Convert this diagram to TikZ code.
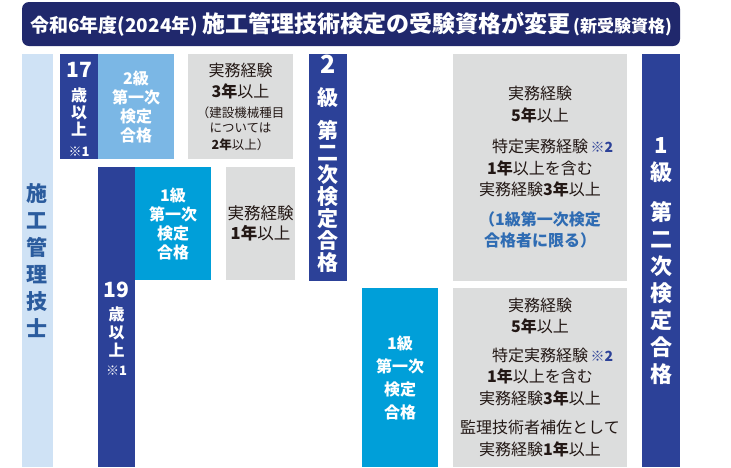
\documentclass[tikz,border=0pt]{standalone}
\usepackage{fontspec}
\setmainfont{Noto Sans CJK JP}
\usetikzlibrary{backgrounds}
\definecolor{navy}{HTML}{20286C}
\definecolor{dkblue}{HTML}{2C4198}
\definecolor{ltblue}{HTML}{7BB7E5}
\definecolor{cyanb}{HTML}{009FD9}
\definecolor{grayb}{HTML}{DCDDDD}
\definecolor{paleblue}{HTML}{CFE2F5}
\definecolor{txtblue}{HTML}{2B5C9E}
\definecolor{noteblue}{HTML}{2F6CB3}
\definecolor{ink}{HTML}{231815}
\newcommand\fs[2]{\fontsize{#1}{#2}\selectfont}
\begin{document}
\begin{tikzpicture}[x=1pt,y=-1pt,
  box/.style={inner sep=0pt, outer sep=0pt, align=center},
  dkcol/.style={box, fill=dkblue, text=white, font=\bfseries},
  ltbox/.style={box, fill=ltblue, text=white, font=\bfseries\fs{16}{19}},
  cybox/.style={box, fill=cyanb, text=white, font=\bfseries\fs{16}{19}},
  gybox/.style={box, fill=grayb, text=ink, font=\fs{16}{21.5}},
  wtxt/.style={box, text=white},
  conn/.style={draw=dkblue, line width=7pt},
]
\useasboundingbox[fill=white] (0,0) rectangle (731,467);

% title
\node[box, fill=navy, rounded corners=7pt, minimum width=658, minimum height=44, text=white, font=\bfseries] (title) at (351,24)
  {{\fs{19}{19}令和6年度(2024年)}\hspace{4pt}{\fs{23}{23}施工管理技術検定の受験資格が変更}\hspace{3pt}{\fs{17}{17}(新受験資格)}};

% left column
\node[box, fill=paleblue, minimum width=31, minimum height=413, text=txtblue, font=\bfseries\fs{21}{27}] (shiko) at (37.5,260.5)
  {施\\工\\管\\理\\技\\士};

% 17 column
\node[dkcol, minimum width=38, minimum height=105] (c17) at (79,106.5) {};
\node[wtxt, font=\bfseries\fs{16}{17}] (t17) at (79,109) {{\fs{21}{21}17}\\[7pt]歳\\以\\上\\[4pt]{\fs{13}{13}※1}};

\node[ltbox, minimum width=76, minimum height=105] (b2ichi) at (136,106.5) {2級\\第一次\\検定\\合格};

\node[gybox, minimum width=105, minimum height=105] (g1) at (240.5,106.5)
  {実務経験\\\textbf{3年}以上\\[-2pt]{\fs{12.5}{15}（建設機械種目}\\[-6pt]{\fs{12.5}{15}については}\\[-5pt]{\fs{12.5}{15}\textbf{2年}以上）}};

% 2nd grade second exam column
\node[dkcol, minimum width=38, minimum height=227] (c2ni) at (328,167.5) {};
\node[wtxt, font=\bfseries\fs{21}{22}] (t2ni) at (328,164) {{\fs{25}{22}2}\\[10pt]級\\[11pt]第\\二\\次\\検\\定\\合\\格};

\node[gybox, minimum width=174, minimum height=227] (g3) at (540,167.5)
  {実務経験\\\textbf{5年}以上\\[10pt]特定実務経験\rlap{\,\textcolor{dkblue}{\bfseries\fs{14}{14}※2}}\\\textbf{1年}以上を含む\\実務経験\textbf{3年}以上\\[8pt]\textcolor{noteblue}{\bfseries（1級第一次検定}\\\textcolor{noteblue}{\bfseries 合格者に限る）}};

% 1st grade second exam column
\node[dkcol, minimum width=38, minimum height=413] (c1ni) at (661,260.5) {};
\node[wtxt, font=\bfseries\fs{22}{27}] (t1ni) at (661,261) {1\\級\\[13pt]第\\二\\次\\検\\定\\合\\格};

% 19 column
\node[dkcol, minimum width=37, minimum height=300] (c19) at (116.5,317) {};
\node[wtxt, font=\bfseries\fs{16}{18}] (t19) at (116.5,329) {{\fs{21}{21}19}\\[5pt]歳\\以\\上\\[1pt]{\fs{13}{13}※1}};

\node[cybox, minimum width=76, minimum height=113] (b1ichiA) at (173,223.5) {1級\\第一次\\検定\\合格};
\node[gybox, minimum width=69, minimum height=113, font=\fs{16.5}{20}] (g2) at (260.5,223.5) {実務経験\\\textbf{1年}以上};

\node[cybox, minimum width=76, minimum height=179, font=\bfseries\fs{16}{23}] (b1ichiB) at (400,377.5) {1級\\第一次\\検定\\合格};
\node[gybox, minimum width=174, minimum height=179] (g4) at (540,377.5)
  {実務経験\\\textbf{5年}以上\\[7pt]特定実務経験\rlap{\,\textcolor{dkblue}{\bfseries\fs{14}{14}※2}}\\\textbf{1年}以上を含む\\実務経験\textbf{3年}以上\\[8pt]監理技術者補佐として\\実務経験\textbf{1年}以上};

\begin{scope}[on background layer]
\draw[conn] (b2ichi.east) -- (g1.west);
\draw[conn] (g1.east) -- (c2ni.west |- g1.east);
\draw[conn] (c2ni.east |- g1.east) -- (g3.west |- g1.east);
\draw[conn] (g3.east |- g1.east) -- (c1ni.west |- g1.east);
\draw[conn] (b1ichiA.east) -- (g2.west);
\draw[conn] (g2.east) -- (c2ni.west |- g2.east);
\draw[conn] (c2ni.east |- g2.east) -- (g3.west |- g2.east);
\draw[conn] (g3.east |- g2.east) -- (c1ni.west |- g2.east);
\draw[conn] (c19.east |- b1ichiB.west) -- (b1ichiB.west);
\draw[conn] (b1ichiB.east) -- (g4.west);
\draw[conn] (g4.east) -- (c1ni.west |- g4.east);
\end{scope}
\end{tikzpicture}
\end{document}
